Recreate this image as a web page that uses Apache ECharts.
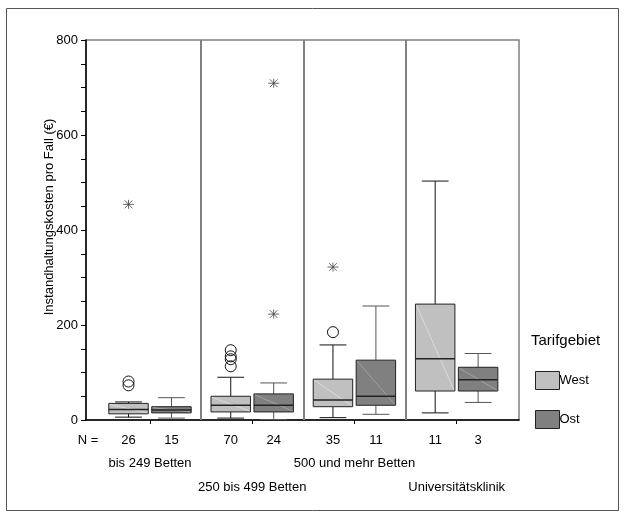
<!DOCTYPE html>
<html>
<head>
<meta charset="utf-8">
<script src="https://cdn.jsdelivr.net/npm/echarts@6/dist/echarts.min.js"></script>
<style>
  html, body { margin: 0; padding: 0; background: #fff; }
  #chart { width: 625px; height: 516px; }
</style>
</head>
<body>
<div id="chart"></div>
<script>
// Hospital size classes and tariff regions
const groups = ['bis 249 Betten', '250 bis 499 Betten', '500 und mehr Betten', 'Universitätsklinik'];
const regions = ['West', 'Ost'];

// number of hospitals per box
const westN = [26, 70, 35, 11];
const ostN = [15, 24, 11, 3];

// five-number summaries of maintenance cost per case (€)
const westMin = [6, 4, 5, 15];
const westQ1 = [13, 17, 28, 61];
const westMedian = [22, 31, 42, 129];
const westQ3 = [35, 50, 86, 244];
const westMax = [38, 90, 158, 503];

const ostMin = [4, 1, 12, 37];
const ostQ1 = [15, 17, 31, 61];
const ostMedian = [21, 31, 50, 85];
const ostQ3 = [28, 55, 126, 111];
const ostMax = [47, 78, 240, 140];

// outliers (circles) and extreme values (stars): [group index, value]
const westOutliers = [[0, 81], [0, 73], [1, 147], [1, 134], [1, 128], [1, 113], [2, 185]];
const westExtremes = [[0, 454], [2, 322]];
const ostOutliers = [];
const ostExtremes = [[1, 709], [1, 223]];

// labelled ticks of the cost axis
const yTickLabels = [0, 200, 400, 600, 800];

const FONT = '"Liberation Sans", Arial, sans-serif';
const BOX_W = 0.386;   // box width in group units
const CAP_W = 0.262;   // whisker cap width in group units
const OFFSET = { West: -0.21, Ost: 0.21 };
const STYLE = {
  West: { fill: '#c0c0c0', diag: '#dadada', whisker: '#111', median: '#222' },
  Ost: { fill: '#808080', diag: '#a0a0a0', whisker: '#555', median: '#222' }
};

function boxData(mins, q1s, meds, q3s, maxs, ns) {
  return groups.map((g, i) => [i, mins[i], q1s[i], meds[i], q3s[i], maxs[i], ns[i]]);
}

function makeRenderer(region) {
  const st = STYLE[region];
  const off = OFFSET[region];
  return function (params, api) {
    const x = api.value(0) + off;
    const base = api.coord([x, 0]);
    const cx = base[0];
    const half = api.size([BOX_W, 0])[0] / 2;
    const cap = api.size([CAP_W, 0])[0] / 2;
    const yMin = api.coord([x, api.value(1)])[1];
    const yQ1 = api.coord([x, api.value(2)])[1];
    const yMed = api.coord([x, api.value(3)])[1];
    const yQ3 = api.coord([x, api.value(4)])[1];
    const yMax = api.coord([x, api.value(5)])[1];
    const line = (x1, y1, x2, y2, color, w) => ({
      type: 'line',
      shape: { x1, y1, x2, y2 },
      style: { stroke: color, lineWidth: w || 1 }
    });
    return {
      type: 'group',
      children: [
        line(cx, yMin, cx, yQ1, st.whisker),
        line(cx, yQ3, cx, yMax, st.whisker),
        line(cx - cap, yMin, cx + cap, yMin, st.whisker),
        line(cx - cap, yMax, cx + cap, yMax, st.whisker),
        {
          type: 'rect',
          shape: { x: cx - half, y: yQ3, width: half * 2, height: yQ1 - yQ3 },
          style: { fill: st.fill, stroke: '#222', lineWidth: 1 }
        },
        line(cx - half + 1, yQ3 + 1, cx + half - 1, yQ1 - 1, st.diag),
        line(cx - half, yMed, cx + half, yMed, st.median, 1.5),
        {
          type: 'text',
          style: {
            text: String(api.value(6)),
            x: cx, y: base[1] + 20,
            align: 'center', verticalAlign: 'middle',
            font: '13px ' + FONT, fill: '#000'
          }
        }
      ]
    };
  };
}

const pointsFor = (arr, region) => arr.map(d => [d[0] + OFFSET[region], d[1]]);

const starPath = 'path://M0,4L10,4M1.5,0.5L8.5,7.5M1.5,7.5L8.5,0.5M5,0L5,8';

const chart = echarts.init(document.getElementById('chart'), null, { renderer: 'canvas' });

chart.setOption({
  animation: false,
  backgroundColor: '#fff',
  textStyle: { fontFamily: FONT },
  title: {
    text: 'Tarifgebiet',
    left: 526, top: 328,
    textStyle: { fontFamily: FONT, fontSize: 15, fontWeight: 'normal', color: '#000' }
  },
  legend: {
    orient: 'vertical',
    left: 530, top: 366,
    itemWidth: 24, itemHeight: 18, itemGap: 20,
    icon: 'rect',
    selectedMode: false,
    textStyle: { fontFamily: FONT, fontSize: 13, color: '#000', padding: [10, 0, 0, -5] },
    data: regions.map(r => ({
      name: r,
      itemStyle: { color: STYLE[r].fill, borderColor: '#222', borderWidth: 1 }
    }))
  },
  grid: [
    { left: 86, right: 106, top: 40, bottom: 96, show: true, borderColor: '#808080', borderWidth: 1.5, containLabel: false },
    { left: 98.9, right: 117.2, top: 40, bottom: 96, containLabel: false }
  ],
  xAxis: [
    {
      type: 'value', gridIndex: 0, min: -0.626, max: 3.61,
      axisLine: { show: true, onZero: false, lineStyle: { color: '#000', width: 1.5 } },
      axisTick: { show: false },
      axisLabel: { show: false },
      splitLine: { show: false }
    },
    {
      type: 'category', gridIndex: 1, data: groups,
      axisLine: { show: false, onZero: false },
      axisTick: { show: true, alignWithLabel: true, length: 4, lineStyle: { color: '#000', width: 1 } },
      axisLabel: {
        margin: 31, interval: 0,
        fontFamily: FONT, fontSize: 13, color: '#000', lineHeight: 24,
        formatter: (v, i) => (i % 2 === 0 ? v : '\n' + v)
      }
    }
  ],
  yAxis: [
    {
      type: 'value', gridIndex: 0, min: 0, max: 800, interval: 50,
      axisLine: { show: true, onZero: false, lineStyle: { color: '#000', width: 1.5 } },
      axisTick: { show: true, length: 5, lineStyle: { color: '#000', width: 1 } },
      splitLine: { show: false },
      axisLabel: {
        margin: 8, fontFamily: FONT, fontSize: 13, color: '#000',
        formatter: v => (yTickLabels.includes(v) ? String(v) : '')
      }
    },
    { type: 'value', gridIndex: 1, min: 0, max: 800, show: false }
  ],
  graphic: [
    {
      type: 'rect', silent: true, z: -10,
      shape: { x: 6.5, y: 8.5, width: 612, height: 502 },
      style: { fill: 'none', stroke: '#555', lineWidth: 1 }
    },
    {
      type: 'text', silent: true,
      x: 49, y: 217, rotation: Math.PI / 2,
      style: {
        text: 'Instandhaltungskosten pro Fall (€)',
        align: 'center', verticalAlign: 'middle',
        font: '13px ' + FONT, fill: '#000'
      }
    },
    {
      type: 'text', silent: true,
      x: 88, y: 440,
      style: {
        text: 'N =', align: 'center', verticalAlign: 'middle',
        font: '13px ' + FONT, fill: '#000'
      }
    }
  ],
  series: [
    {
      name: 'West', type: 'custom', xAxisIndex: 0, yAxisIndex: 0,
      renderItem: makeRenderer('West'),
      encode: { x: 0, y: [1, 2, 3, 4, 5] },
      itemStyle: { color: STYLE.West.fill },
      data: boxData(westMin, westQ1, westMedian, westQ3, westMax, westN),
      z: 3
    },
    {
      name: 'Ost', type: 'custom', xAxisIndex: 0, yAxisIndex: 0,
      renderItem: makeRenderer('Ost'),
      encode: { x: 0, y: [1, 2, 3, 4, 5] },
      itemStyle: { color: STYLE.Ost.fill },
      data: boxData(ostMin, ostQ1, ostMedian, ostQ3, ostMax, ostN),
      z: 3
    },
    {
      name: 'Ausreißer', type: 'scatter', xAxisIndex: 0, yAxisIndex: 0,
      symbol: 'circle', symbolSize: 11,
      itemStyle: { color: 'rgba(0,0,0,0)', borderColor: '#111', borderWidth: 1, opacity: 1 },
      data: pointsFor(westOutliers, 'West').concat(pointsFor(ostOutliers, 'Ost')),
      silent: true, z: 4,
      markLine: {
        silent: true, symbol: ['none', 'none'],
        label: { show: false },
        lineStyle: { color: '#808080', width: 2, type: 'solid' },
        data: groups.slice(1).map((g, i) => ({ xAxis: i + 0.5 }))
      }
    },
    {
      name: 'Extremwerte', type: 'scatter', xAxisIndex: 0, yAxisIndex: 0,
      symbol: starPath, symbolSize: [11, 9],
      itemStyle: { color: 'rgba(0,0,0,0)', borderColor: '#444', borderWidth: 0.8, opacity: 1 },
      data: pointsFor(westExtremes, 'West').concat(pointsFor(ostExtremes, 'Ost')),
      silent: true, z: 4
    },
    {
      name: 'Gruppen', type: 'scatter', xAxisIndex: 1, yAxisIndex: 1,
      data: [], silent: true
    }
  ]
});
</script>
</body>
</html>
